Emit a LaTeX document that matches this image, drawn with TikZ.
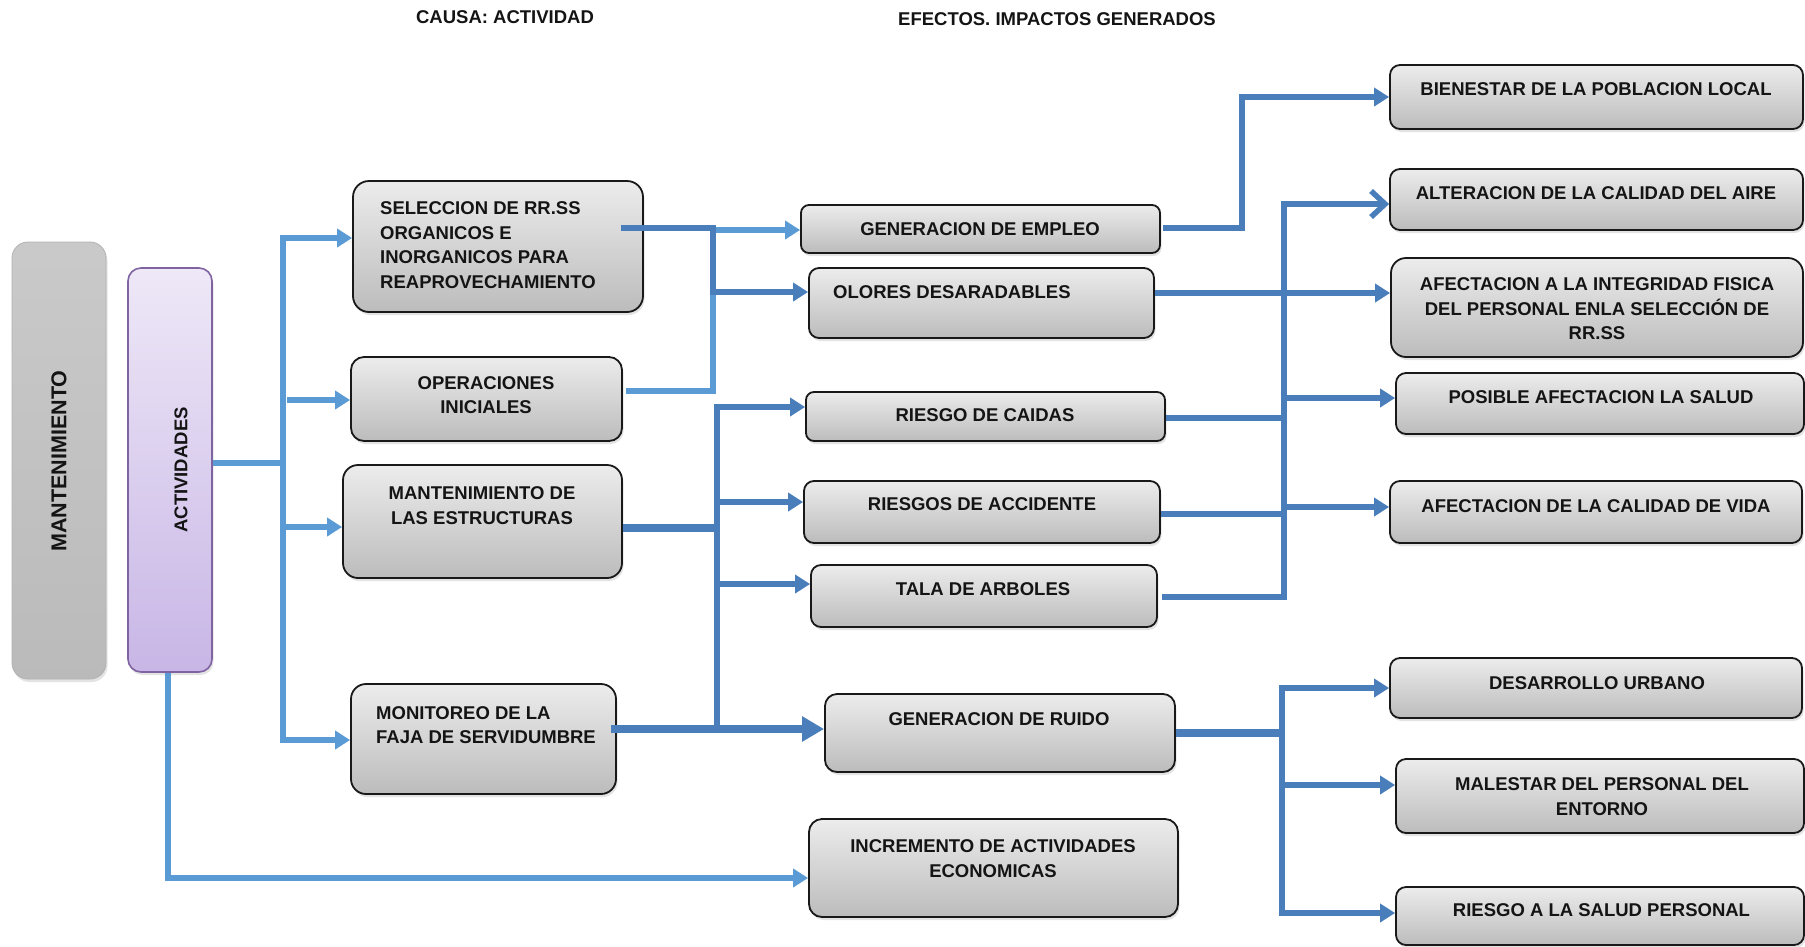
\documentclass[tikz,border=0pt]{standalone}
\usepackage{fontspec}
\setmainfont{Liberation Sans}
\usetikzlibrary{arrows.meta,shadows,calc}

\definecolor{lightb}{RGB}{91,155,213}
\definecolor{darkb}{RGB}{74,126,187}
\definecolor{boxtop}{RGB}{236,236,236}
\definecolor{boxbot}{RGB}{188,188,188}
\definecolor{lavtop}{RGB}{238,232,247}
\definecolor{lavbot}{RGB}{200,182,230}
\definecolor{lavline}{RGB}{128,100,162}
\definecolor{txt}{RGB}{20,20,20}

% place a box node from its corner coordinates (x1,y1)-(x2,y2)
\newcommand\cornerbox[6][]{%
  \pgfmathsetmacro\bw{#5-#3}\pgfmathsetmacro\bh{#6-#4}%
  \pgfmathsetmacro\bx{(#3+#5)/2}\pgfmathsetmacro\by{(#4+#6)/2}%
  \node[box,#1,minimum width=\bw pt,minimum height=\bh pt] (#2) at (\bx,\by) {};}

\tikzset{
  box/.style={rectangle, rounded corners=10pt, draw=black!90, line width=1.8pt,
    top color=boxtop, bottom color=boxbot, inner sep=0pt,
    drop shadow={shadow xshift=1.5pt, shadow yshift=-3pt, opacity=0.22}},
  lbl/.style={font=\bfseries\fontsize{18.5}{24.5}\selectfont, text=txt, inner sep=0pt},
  lk/.style={draw=lightb, line width=5.5pt},
  dk/.style={draw=darkb, line width=5.5pt},
  thk/.style={draw=darkb, line width=7.5pt},
  tip/.style={-{Triangle[length=15pt,width=18pt]}},
  bigtip/.style={-{Triangle[length=22pt,width=24pt]}},
}

\begin{document}
\begin{tikzpicture}[x=1pt,y=-1pt]
\useasboundingbox (0,0) rectangle (1805,946);
\fill[white] (0,0) rectangle (1805,946);

% headers
\node[lbl] (hcausa) at (505,17.5) {CAUSA: ACTIVIDAD};
\node[lbl] (hefec) at (1057,19) {EFECTOS. IMPACTOS GENERADOS};

% left column
\cornerbox[rounded corners=16pt, draw=black!30, line width=0.8pt, top color=black!21, bottom color=black!27,
  drop shadow={opacity=0}]{mant}{12}{242}{106}{679}
\node[lbl, rotate=90, font=\bfseries\fontsize{21.5}{26}\selectfont] (mantt) at (59,461) {MANTENIMIENTO};
\cornerbox[rounded corners=13pt, draw=lavline, line width=1.6pt, top color=lavtop, bottom color=lavbot]{act}{128}{268}{212}{672}
\node[lbl, rotate=90] (actt) at (181,470) {ACTIVIDADES};

% causes
\cornerbox[rounded corners=16pt]{sel}{353}{181}{643}{312}
\node[lbl, anchor=west, align=left] (selt) at (380,245) {SELECCION DE RR.SS\\ORGANICOS E\\INORGANICOS PARA\\REAPROVECHAMIENTO};
\cornerbox[rounded corners=13pt]{ope}{351}{357}{622}{441}
\node[lbl, align=center] (opet) at (486,395) {OPERACIONES\\INICIALES};
\cornerbox[rounded corners=15pt]{est}{343}{465}{622}{578}
\node[lbl, align=center] (estt) at (482,505.5) {MANTENIMIENTO DE\\LAS ESTRUCTURAS};
\cornerbox[rounded corners=15pt]{mon}{351}{684}{616}{794}
\node[lbl, anchor=west, align=left] (mont) at (376,725) {MONITOREO DE LA\\FAJA DE SERVIDUMBRE};

% middle column
\cornerbox[rounded corners=8pt]{emp}{801}{205}{1160}{253}
\node[lbl] (empt) at (980,229) {GENERACION DE EMPLEO};
\cornerbox{olo}{809}{268}{1154}{338}
\node[lbl, anchor=west] (olot) at (833,292) {OLORES DESARADABLES};
\cornerbox[rounded corners=8pt]{cai}{806}{392}{1165}{441}
\node[lbl] (cait) at (985,415) {RIESGO DE CAIDAS};
\cornerbox{acc}{804}{481}{1160}{543}
\node[lbl] (acct) at (982,504) {RIESGOS DE ACCIDENTE};
\cornerbox{tal}{811}{565}{1157}{627}
\node[lbl] (talt) at (983,589) {TALA DE ARBOLES};
\cornerbox[rounded corners=12pt]{rui}{825}{694}{1175}{772}
\node[lbl] (ruit) at (999,719) {GENERACION DE RUIDO};
\cornerbox[rounded corners=13pt]{inc}{809}{819}{1178}{917}
\node[lbl, align=center] (inct) at (993,858.5) {INCREMENTO DE ACTIVIDADES\\ECONOMICAS};

% right column
\cornerbox{bie}{1390}{65}{1803}{129}
\node[lbl] (biet) at (1596,89) {BIENESTAR DE LA POBLACION LOCAL};
\cornerbox{air}{1390}{169}{1803}{230}
\node[lbl] (airt) at (1596,193) {ALTERACION DE LA CALIDAD DEL AIRE};
\cornerbox[rounded corners=15pt]{fis}{1391}{258}{1803}{357}
\node[lbl, align=center] (fist) at (1597,309) {AFECTACION A LA INTEGRIDAD FISICA\\DEL PERSONAL ENLA SELECCIÓN DE\\RR.SS};
\cornerbox{sal}{1396}{373}{1804}{434}
\node[lbl] (salt) at (1601,397) {POSIBLE AFECTACION LA SALUD};
\cornerbox{vid}{1390}{481}{1802}{543}
\node[lbl] (vidt) at (1596,506) {AFECTACION DE LA CALIDAD DE VIDA};
\cornerbox{urb}{1390}{658}{1802}{718}
\node[lbl] (urbt) at (1597,683) {DESARROLLO URBANO};
\cornerbox{mal}{1396}{759}{1804}{833}
\node[lbl, align=center] (malt) at (1602,796.5) {MALESTAR DEL PERSONAL DEL\\ENTORNO};
\cornerbox{per}{1396}{887}{1804}{945}
\node[lbl] (pert) at (1601.5,910) {RIESGO A LA SALUD PERSONAL};

% activities trunk
\coordinate (tr) at (283,463);
\draw[lk] (act.east |- tr) -- (tr);
\draw[lk, line cap=rect] (283,238) -- (283,740);
\draw[lk,tip] (283,238) -- (sel.west |- 0,238);
\draw[lk,tip] (287,400) -- (ope.west |- 0,400);
\draw[lk,tip] (283,527) -- (est.west |- 0,527);
\draw[lk,tip] (283,740) -- (mon.west |- 0,740);
\draw[lk,tip] ($(act.south)+(-2,0)$) |- (inc.west |- 0,878);

% selection and initial operations
\draw[lk,tip] ($(ope.east |- 0,391)+(3,0)$) -| (713,230) -- (emp.west |- 0,230);
\draw[dk,tip] ($(sel.east |- 0,228)+(-23,0)$) -| (713,292) -- (olo.west |- 0,292);

% maintenance and monitoring branch
\draw[thk] (est.east |- 0,528) -- (717,528);
\draw[dk] (717,405) -- (717,729);
\draw[dk,tip] (714.25,407) -- (cai.west |- 0,407);
\draw[dk,tip] (717,502) -- (acc.west |- 0,502);
\draw[dk,tip] (717,584) -- (tal.west |- 0,584);
\draw[thk,bigtip] ($(mon.east |- 0,729)+(-6,0)$) -- (rui.west |- 0,729);

% effects towards the right column
\draw[dk,tip] ($(emp.east |- 0,228)+(2,0)$) -| (1242,97) -- (bie.west |- 0,97);
\draw[dk,tip] (olo.east |- 0,293) -- (fis.west |- 0,293);
\draw[dk] (1284,201.25) -- (1284,599.75);
\draw[dk,-{Straight Barb[length=14pt,width=26pt]}] (1281.25,204) -- (air.west |- 0,204);
\draw[dk,tip] (1284,398) -- (sal.west |- 0,398);
\draw[dk,tip] (1284,507) -- (vid.west |- 0,507);
\draw[dk] (cai.east |- 0,418) -- (1284,418);
\draw[dk] (acc.east |- 0,514) -- (1284,514);
\draw[dk] ($(tal.east |- 0,597)+(4,0)$) -- (1286.75,597);

% noise branch
\draw[thk] (rui.east |- 0,733) -- (1282,733);
\draw[dk] (1282,685.25) -- (1282,915.75);
\draw[dk,tip] (1279.25,688) -- (urb.west |- 0,688);
\draw[dk,tip] (1282,785) -- (mal.west |- 0,785);
\draw[dk,tip] (1279.25,913) -- (per.west |- 0,913);
\end{tikzpicture}
\end{document}
